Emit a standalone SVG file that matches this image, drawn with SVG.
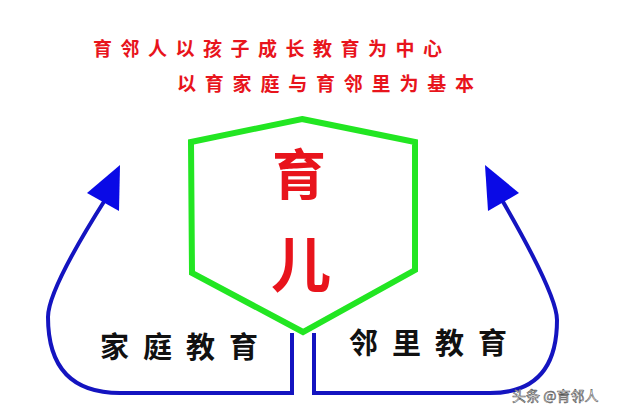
<svg xmlns="http://www.w3.org/2000/svg" width="622" height="416" viewBox="0 0 622 416">
<defs>
<style>
.red{fill:#e8141c;font-family:"Noto Sans CJK SC","Noto Sans CJK JP",sans-serif;font-weight:bold}
.lbl{fill:#111;font-family:"Noto Sans CJK SC","Noto Sans CJK JP",sans-serif;font-weight:bold;font-size:29px;letter-spacing:14px}
.conn{fill:none;stroke:#1414c0;stroke-width:4}
.head{fill:#0a0ae6}
</style>
</defs>
<rect width="622" height="416" fill="#ffffff"/>
<g id="title">
<text class="red" x="93" y="56" font-size="19" letter-spacing="8.5">育邻人以孩子成长教育为中心</text>
<text class="red" x="177" y="91" font-size="19" letter-spacing="8.8">以育家庭与育邻里为基本</text>
</g>
<g id="connectors">
<path class="conn" d="M292,333 V393 H120 Q48,393 48,317 Q48,290 105,200"/>
<polygon class="head" points="120,165 87,193 119,211"/>
<path class="conn" d="M314,333 V393 H490 Q557,393 557,320 Q557,295 502,200"/>
<polygon class="head" points="485,165 488,211 519,193"/>
</g>
<g id="hexagon">
<polygon points="302,119 415,142 415,270 303,332 192,273 191,142" fill="#ffffff" stroke="#22e622" stroke-width="6" stroke-linejoin="miter"/>
<text class="red" x="299" y="195" font-size="54" text-anchor="middle">育</text>
<text class="red" x="301" y="287" font-size="60" text-anchor="middle">儿</text>
</g>
<g id="family">
<text class="lbl" x="100" y="358">家庭教育</text>
</g>
<g id="neighbor">
<text class="lbl" x="349" y="354">邻里教育</text>
</g>
<g id="watermark">
<text x="512" y="401" font-family="'Noto Sans CJK SC',sans-serif" font-size="14" fill="#ffffff" stroke="#555" stroke-width="0.6">头条 @育邻人</text>
</g>
</svg>
